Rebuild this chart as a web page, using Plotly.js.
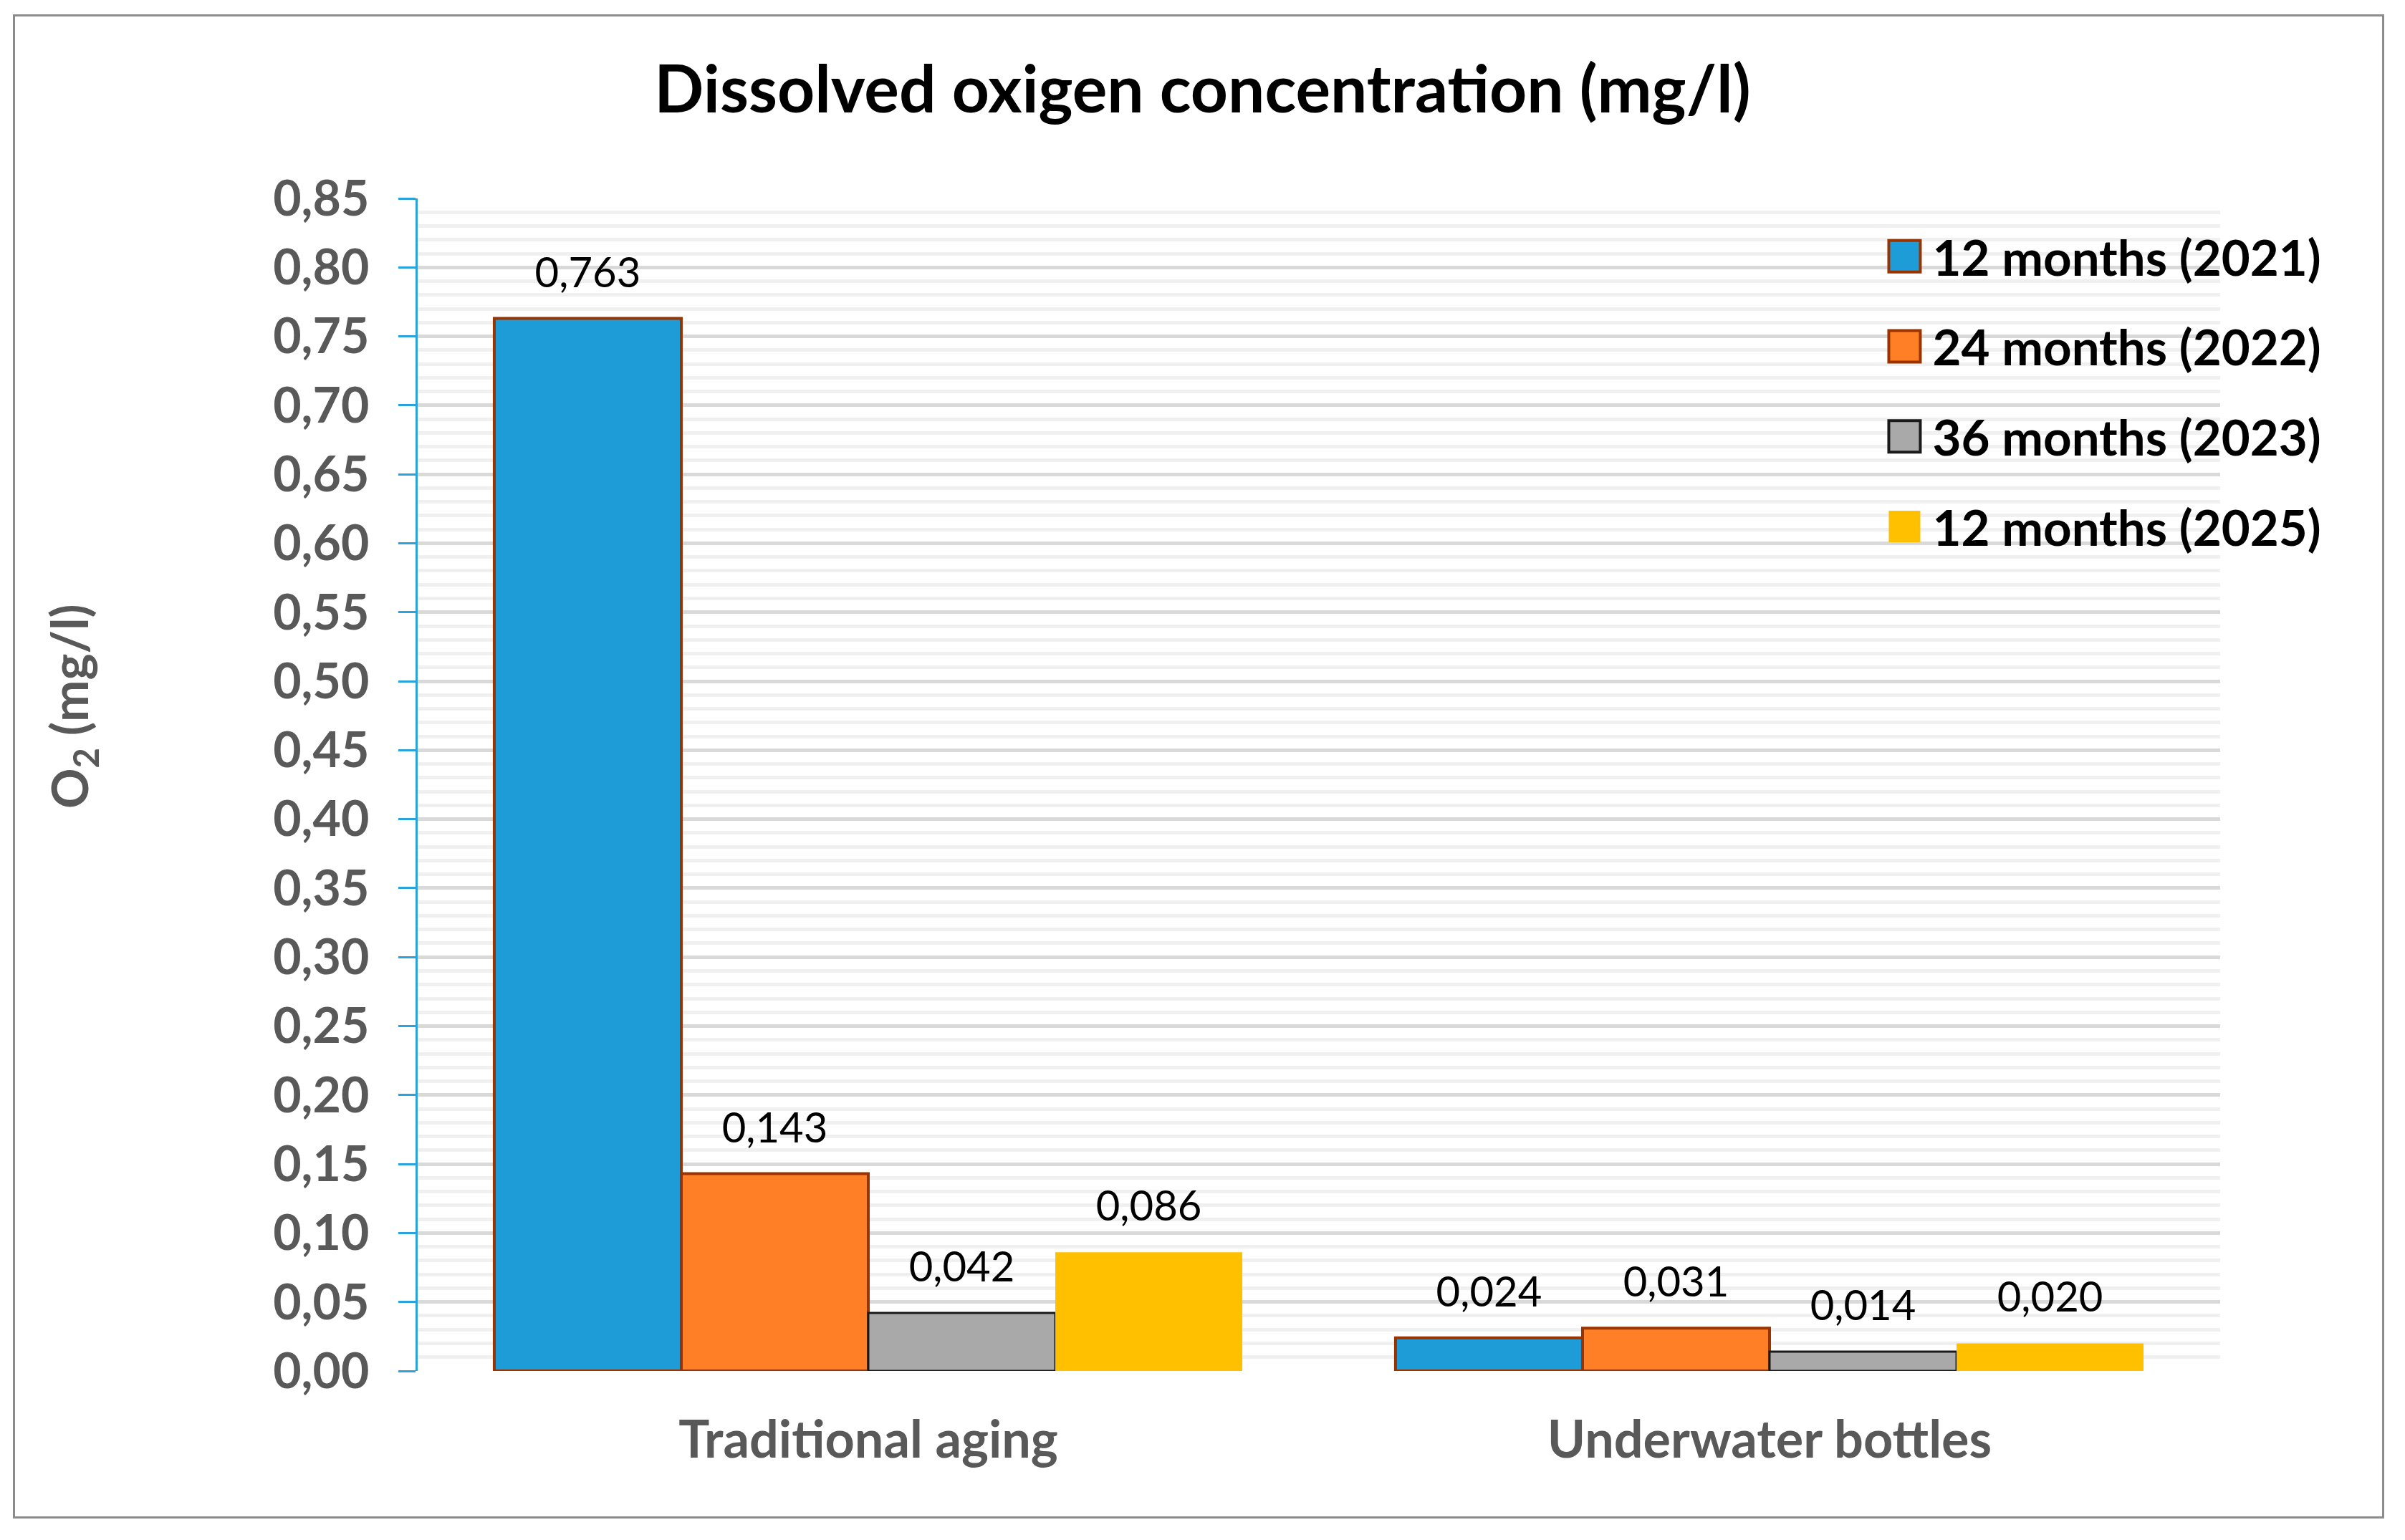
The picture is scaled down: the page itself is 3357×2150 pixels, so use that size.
<!DOCTYPE html>
<html>
<head>
<meta charset="utf-8">
<script src="https://cdn.plot.ly/plotly-3.0.1.min.js"></script>
<style>
  html, body { margin: 0; padding: 0; background: #ffffff; }
  #chart { position: absolute; left: 0; top: 0; width: 3357px; height: 2150px; }
  #frame { position: absolute; left: 18px; top: 20px; width: 3304px; height: 2094px;
           border: 3px solid #8c8c8c; pointer-events: none; }
</style>
</head>
<body>
<div id="chart"></div>
<div id="frame"></div>
<script>
// ---- data ----
const categories = ['Traditional aging', 'Underwater bottles'];
const seriesNames = ['12 months (2021)', '24 months (2022)', '36 months (2023)', '12 months (2025)'];
const months12_2021 = [0.763, 0.024];
const months24_2022 = [0.143, 0.031];
const months36_2023 = [0.042, 0.014];
const months12_2025 = [0.086, 0.020];

// ---- styles ----
const seriesValues = [months12_2021, months24_2022, months36_2023, months12_2025];
const fillColors = ['#1E9CD8', '#FF7F27', '#A9A9A9', '#FFC000'];
const lineColors = ['#993300', '#993300', '#1a1a1a', 'rgba(0,0,0,0)'];
const lineWidths = [4, 4, 3, 0];
const FONT = 'Lato, "Open Sans", sans-serif';

const traces = seriesValues.map((vals, i) => ({
  type: 'bar',
  name: seriesNames[i],
  x: categories,
  y: vals,
  legendgroup: 'g' + i,
  marker: { color: fillColors[i], line: { color: lineColors[i], width: lineWidths[i] } },
  texttemplate: '%{y:.3f}',
  textposition: 'outside',
  cliponaxis: false,
  textfont: { family: FONT, size: 58, color: '#000000' },
  hoverinfo: 'x+y+name'
}));

const layout = {
  width: 3357,
  height: 2150,
  separators: ',.',
  paper_bgcolor: '#ffffff',
  plot_bgcolor: '#ffffff',
  margin: { l: 583, r: 258, t: 277, b: 236, pad: 0 },
  font: { family: FONT },
  title: {
    text: '<b>Dissolved oxigen concentration (mg/l)</b>',
    font: { family: FONT, size: 91, color: '#000000' },
    x: 0.5, xanchor: 'center',
    y: 1 - 125 / 2150, yref: 'container', yanchor: 'middle'
  },
  barmode: 'group',
  bargap: 0.17,
  bargroupgap: 0,
  showlegend: true,
  legend: {
    x: 0.8094, xanchor: 'left',
    y: 0.982, yanchor: 'top',
    bgcolor: 'rgba(0,0,0,0)',
    borderwidth: 0,
    traceorder: 'grouped',
    tracegroupgap: 33,
    itemwidth: 68,
    font: { family: FONT, size: 69, color: '#000000', weight: 'bold' }
  },
  xaxis: {
    type: 'category',
    showline: false,
    showgrid: false,
    zeroline: false,
    ticks: '',
    ticklabelstandoff: 48,
    tickfont: { family: FONT, size: 72, color: '#595959', weight: 'bold' }
  },
  yaxis: {
    range: [0, 0.85],
    tick0: 0,
    dtick: 0.05,
    tickformat: '.2f',
    showline: true,
    linecolor: '#2AA3DD',
    linewidth: 3,
    ticks: 'outside',
    ticklen: 24,
    tickwidth: 3,
    tickcolor: '#2AA3DD',
    ticklabelstandoff: 27,
    tickfont: { family: FONT, size: 68, color: '#595959', weight: 'bold' },
    showgrid: true,
    gridcolor: '#d9d9d9',
    gridwidth: 5,
    zeroline: false,
    minor: { dtick: 0.01, showgrid: true, gridcolor: '#f0f0f0', gridwidth: 5, ticks: '' }
  },
  annotations: [{
    text: '<b>O<sub>2</sub> (mg/l)</b>',
    textangle: -90,
    xref: 'paper', yref: 'paper',
    x: (101 - 583) / 2516, y: 1 - (986 - 277) / 1637,
    xanchor: 'center', yanchor: 'middle',
    showarrow: false,
    font: { family: FONT, size: 70, color: '#595959' }
  }]
};

function tweak() {
  const gd = document.getElementById('chart');
  gd.querySelectorAll('.legend .traces').forEach((g, i) => {
    g.querySelectorAll('.legendpoints path').forEach(p => {
      p.setAttribute('d', 'M22,22H-22V-22H22Z');
      p.style.strokeWidth = (lineWidths[i] > 0 ? 4 : 0) + 'px';
    });
  });
  gd.querySelectorAll('.bartext').forEach(t => {
    const tr = t.getAttribute('transform') || '';
    t.setAttribute('transform', tr + ' translate(0,-29)');
  });
}

Plotly.newPlot('chart', traces, layout, { staticPlot: true, displayModeBar: false }).then(tweak);
</script>
</body>
</html>
